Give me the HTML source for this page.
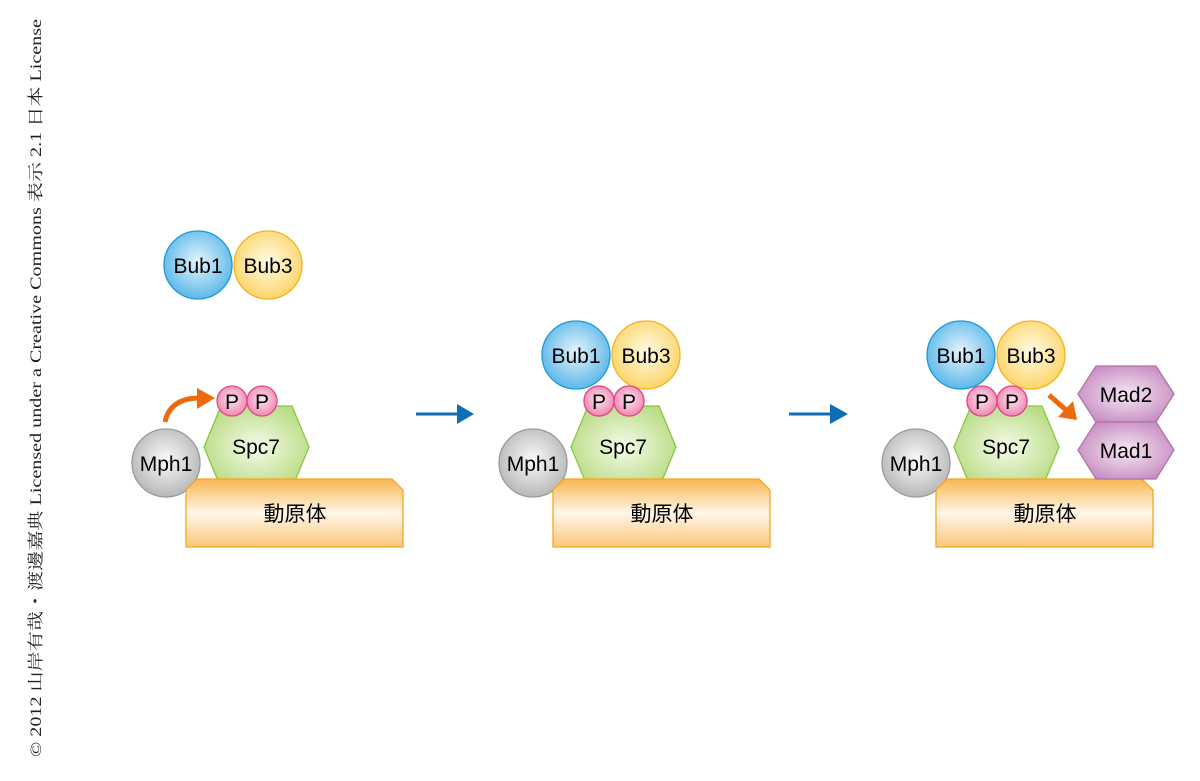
<!DOCTYPE html>
<html><head><meta charset="utf-8"><style>
html,body{margin:0;padding:0;background:#fff;}
svg{display:block;}
text{font-family:"Liberation Sans","Noto Sans CJK JP",sans-serif;}
</style></head><body>
<svg width="1200" height="781" viewBox="0 0 1200 781" xmlns="http://www.w3.org/2000/svg">
<defs>
<radialGradient id="gBlue" cx="50%" cy="45%" r="55%"><stop offset="0" stop-color="#e6f4fc"/><stop offset="1" stop-color="#5cb8ea"/></radialGradient>
<radialGradient id="gYel" cx="50%" cy="45%" r="55%"><stop offset="0" stop-color="#fffbe8"/><stop offset="1" stop-color="#fcd56a"/></radialGradient>
<radialGradient id="gGray" cx="50%" cy="45%" r="55%"><stop offset="0" stop-color="#fafafa"/><stop offset="1" stop-color="#b8b8b8"/></radialGradient>
<radialGradient id="gPink" cx="50%" cy="45%" r="55%"><stop offset="0" stop-color="#fde6ef"/><stop offset="1" stop-color="#ef86b0"/></radialGradient>
<radialGradient id="gGreen" cx="50%" cy="50%" r="55%"><stop offset="0" stop-color="#f5fbe9"/><stop offset="1" stop-color="#b9dc86"/></radialGradient>
<radialGradient id="gPurp" cx="50%" cy="50%" r="55%"><stop offset="0" stop-color="#f6e8f3"/><stop offset="1" stop-color="#c88fc2"/></radialGradient>
<linearGradient id="gBase" x1="0" y1="0" x2="0" y2="1"><stop offset="0" stop-color="#f8b650"/><stop offset="0.5" stop-color="#fff6e8"/><stop offset="1" stop-color="#f9c77a"/></linearGradient>
<g id="panel">
  <polygon points="204,447 221,406 292,406 309,447 292,488 221,488" fill="url(#gGreen)" stroke="#8cc63f" stroke-width="1.3"/>
  <text x="256" y="454" font-size="21" text-anchor="middle">Spc7</text>
  <circle cx="232" cy="401" r="15" fill="url(#gPink)" stroke="#e4468a" stroke-width="1.3"/>
  <circle cx="262" cy="401" r="15" fill="url(#gPink)" stroke="#e4468a" stroke-width="1.3"/>
  <text x="232" y="409" font-size="21" text-anchor="middle">P</text>
  <text x="262" y="409" font-size="21" text-anchor="middle">P</text>
  <circle cx="166" cy="463" r="34" fill="url(#gGray)" stroke="#999" stroke-width="1.3"/>
  <text x="166" y="471" font-size="21" text-anchor="middle">Mph1</text>
  <polygon points="186,490 197,479 392,479 403,490 403,547 186,547" fill="url(#gBase)" stroke="#f5a623" stroke-width="1.3"/>
  <text x="295" y="521" font-size="21" text-anchor="middle">動原体</text>
</g>
<g id="pp">
  <circle cx="232" cy="401" r="15" fill="url(#gPink)" stroke="#e4468a" stroke-width="1.3"/>
  <circle cx="262" cy="401" r="15" fill="url(#gPink)" stroke="#e4468a" stroke-width="1.3"/>
  <text x="232" y="409" font-size="21" text-anchor="middle">P</text>
  <text x="262" y="409" font-size="21" text-anchor="middle">P</text>
</g>
</defs>
<!-- Panel 1 -->
<circle cx="198" cy="265" r="34" fill="url(#gBlue)" stroke="#1a9ad6" stroke-width="1.3"/>
<circle cx="268" cy="265" r="34" fill="url(#gYel)" stroke="#f5b21a" stroke-width="1.3"/>
<text x="198" y="273" font-size="21" text-anchor="middle">Bub1</text>
<text x="268" y="273" font-size="21" text-anchor="middle">Bub3</text>
<use href="#panel"/>
<path d="M165,422 Q170,398 200,398" fill="none" stroke="#ec6a0c" stroke-width="5"/>
<polygon points="197,388 215,398 197,409" fill="#ec6a0c"/>
<!-- arrows -->
<line x1="416" y1="414" x2="460" y2="414" stroke="#0f6db5" stroke-width="3"/>
<polygon points="457,404 474,414 457,424" fill="#0f6db5"/>
<line x1="789" y1="414" x2="833" y2="414" stroke="#0f6db5" stroke-width="3"/>
<polygon points="830,404 848,414 830,424" fill="#0f6db5"/>
<!-- Panel 2 -->
<g transform="translate(367,0)"><use href="#panel"/></g>
<circle cx="576" cy="355" r="34" fill="url(#gBlue)" stroke="#1a9ad6" stroke-width="1.3"/>
<circle cx="646" cy="355" r="34" fill="url(#gYel)" stroke="#f5b21a" stroke-width="1.3"/>
<text x="576" y="363" font-size="21" text-anchor="middle">Bub1</text>
<text x="646" y="363" font-size="21" text-anchor="middle">Bub3</text>
<g transform="translate(367,0)"><use href="#pp"/></g>
<!-- Panel 3 -->
<g transform="translate(750,0)"><use href="#panel"/></g>
<circle cx="961" cy="355" r="34" fill="url(#gBlue)" stroke="#1a9ad6" stroke-width="1.3"/>
<circle cx="1031" cy="355" r="34" fill="url(#gYel)" stroke="#f5b21a" stroke-width="1.3"/>
<text x="961" y="363" font-size="21" text-anchor="middle">Bub1</text>
<text x="1031" y="363" font-size="21" text-anchor="middle">Bub3</text>
<g transform="translate(750,0)"><use href="#pp"/></g>
<polygon points="1078,394 1096,366 1156,366 1174,394 1156,422 1096,422" fill="url(#gPurp)" stroke="#b072ab" stroke-width="1.3"/>
<polygon points="1078,450 1096,422 1156,422 1174,450 1156,479 1096,479" fill="url(#gPurp)" stroke="#b072ab" stroke-width="1.3"/>
<text x="1126" y="402" font-size="21" text-anchor="middle">Mad2</text>
<text x="1126" y="458" font-size="21" text-anchor="middle">Mad1</text>
<line x1="1049" y1="395" x2="1066" y2="410" stroke="#ec6a0c" stroke-width="5"/>
<polygon points="1058,417 1077,420 1073,401" fill="#ec6a0c"/>
<!-- credit -->
<text transform="translate(41,757) rotate(-90)" x="0" y="0" font-size="16" textLength="738" lengthAdjust="spacingAndGlyphs" style="font-family:'Liberation Serif','Noto Serif CJK SC',serif" fill="#222">© 2012 山岸有哉・渡邊嘉典 Licensed under a Creative Commons 表示 2.1 日本 License</text>
</svg>
</body></html>
